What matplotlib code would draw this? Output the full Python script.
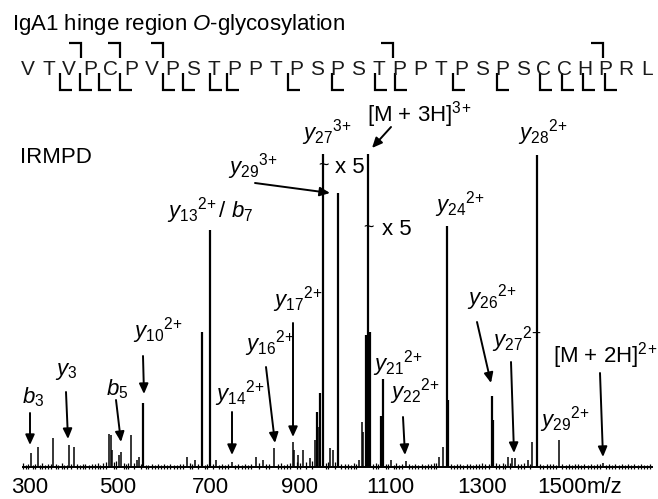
import matplotlib
matplotlib.use('Agg')
import matplotlib.pyplot as plt
import matplotlib.transforms as mtransforms

plt.rcParams['font.family'] = ['Liberation Sans', 'DejaVu Sans']
plt.rcParams['mathtext.fontset'] = 'custom'
plt.rcParams['mathtext.rm'] = 'Liberation Sans'
plt.rcParams['mathtext.it'] = 'Liberation Sans:italic'
plt.rcParams['mathtext.bf'] = 'Liberation Sans:bold'

# ---------------- data ----------------
title_text = r"IgA1 hinge region $\mathit{O}$-glycosylation"
sequence = list("VTVPCPVPSTPPTPSPSTPPTPSPSCCHPRL")

xticks = [300, 500, 700, 900, 1100, 1300, 1500]

peak_mz = [302, 318, 351, 387, 398, 476, 480, 482, 498, 502, 524, 538, 542, 551,
           649, 667, 682, 700, 713, 749, 802, 818, 842, 884, 887, 896, 907, 922,
           933, 938, 940, 944, 951, 967, 973, 984, 1031, 1038, 1040, 1047, 1051,
           1056, 1080, 1084, 1102, 1136, 1209, 1218, 1227, 1229, 1327, 1329, 1362,
           1371, 1378, 1407, 1416, 1427, 1476, 1573]
peak_int = [4.5, 6.4, 9.3, 7.0, 6.4, 10.5, 10.2, 5.4, 3.8, 4.8, 10.2, 2.2, 3.2, 20.4,
            3.2, 2.2, 43.1, 75.7, 2.2, 1.6, 3.2, 2.2, 6.1, 8.0, 5.4, 3.8, 5.4, 2.9,
            8.6, 17.6, 12.8, 23.6, 100.0, 6.1, 5.4, 87.5, 2.2, 14.4, 11.2, 42.2, 100.0,
            43.1, 16.3, 28.1, 2.2, 1.9, 3.2, 6.4, 77.0, 21.4, 22.7, 15.0, 3.2,
            2.9, 2.9, 2.2, 8.0, 99.7, 8.6, 1.3]

noise_mz = [285, 291, 296, 306, 311, 322, 327, 333, 340, 346,
            357, 363, 370, 376, 382, 392, 404, 410, 417, 423,
            430, 437, 444, 450, 456, 462, 468, 487, 492, 508,
            513, 518, 530, 546, 557, 563, 570, 577, 584, 591,
            598, 605, 612, 619, 626, 633, 640, 656, 661, 674,
            689, 694, 706, 720, 727, 734, 741, 756, 763, 770,
            777, 784, 791, 809, 825, 832, 850, 857, 864, 871,
            877, 893, 901, 914, 927, 958, 962, 978, 992, 999,
            1006, 1013, 1020, 1025, 1062, 1068, 1074, 1090, 1096, 1108,
            1114, 1120, 1127, 1142, 1149, 1156, 1163, 1170, 1177, 1184,
            1191, 1197, 1203, 1235, 1242, 1249, 1256, 1263, 1270, 1277,
            1284, 1291, 1298, 1305, 1312, 1319, 1336, 1343, 1350, 1356,
            1366, 1384, 1391, 1398, 1412, 1434, 1441, 1448, 1455, 1462,
            1469, 1483, 1490, 1497, 1504, 1511, 1518, 1525, 1532, 1539,
            1546, 1553, 1560, 1567, 1580, 1587, 1594, 1601, 1608, 1615,
            1622, 1629, 1636, 1643, 1650, 1657, 1664, 1671, 1678]
noise_int = [1.2, 0.6, 0.9, 0.5, 1.0, 0.7, 1.3, 0.6, 0.9, 1.1,
             0.8, 0.5, 1.2, 0.7, 0.6, 1.0, 0.9, 0.5, 0.8, 1.1,
             0.6, 0.9, 1.0, 1.4, 0.7, 1.2, 1.6, 1.5, 1.8, 1.3,
             1.1, 1.4, 1.2, 0.9, 0.7, 0.6, 1.0, 0.5, 0.8, 0.6,
             0.9, 0.5, 1.1, 0.7, 0.6, 1.0, 0.8, 1.2, 0.9, 1.0,
             0.7, 1.1, 0.8, 0.6, 0.9, 0.5, 0.8, 0.6, 1.0, 0.7,
             0.9, 0.6, 1.0, 1.3, 0.8, 1.0, 0.9, 1.2, 0.7, 1.1,
             1.3, 1.5, 1.2, 1.6, 1.8, 1.4, 1.7, 1.5, 1.1, 0.9,
             1.0, 0.7, 1.2, 0.9, 1.0, 1.3, 0.8, 1.1, 0.9, 0.7,
             1.2, 0.6, 0.9, 1.0, 0.6, 1.1, 0.7, 0.9, 0.6, 1.0,
             0.8, 1.2, 1.4, 1.0, 0.7, 1.1, 0.8, 0.6, 1.0, 0.9,
             0.7, 1.1, 0.8, 1.2, 0.9, 1.0, 1.3, 0.9, 1.4, 1.1,
             1.2, 1.0, 0.8, 1.3, 1.1, 1.0, 0.7, 1.1, 0.8, 0.9,
             0.6, 1.0, 0.7, 0.9, 0.6, 1.1, 0.8, 0.5, 0.9, 0.7,
             1.0, 0.6, 0.8, 1.1, 0.7, 0.9, 0.5, 0.8, 0.6, 0.9,
             0.7, 1.0, 0.5, 0.8, 0.6, 0.9, 0.7, 0.5, 0.8]

label_texts = [
    r"$\mathit{b}_{\mathrm{3}}$",
    r"$\mathit{y}_{\mathrm{3}}$",
    r"$\mathit{b}_{\mathrm{5}}$",
    r"$\mathit{y}_{\mathrm{10}}{}^{\mathrm{2\!+}}$",
    r"$\mathit{y}_{\mathrm{13}}{}^{\mathrm{2\!+}}\mathrm{/}\ \mathit{b}_{\mathrm{7}}$",
    r"$\mathit{y}_{\mathrm{14}}{}^{\mathrm{2\!+}}$",
    r"$\mathit{y}_{\mathrm{16}}{}^{\mathrm{2\!+}}$",
    r"$\mathit{y}_{\mathrm{17}}{}^{\mathrm{2\!+}}$",
    r"$\mathit{y}_{\mathrm{29}}{}^{\mathrm{3\!+}}$",
    r"$\mathit{y}_{\mathrm{27}}{}^{\mathrm{3\!+}}$",
    r"[M + 3H]$^{\mathrm{3\!+}}$",
    r"$\mathit{y}_{\mathrm{28}}{}^{\mathrm{2\!+}}$",
    r"$\mathit{y}_{\mathrm{24}}{}^{\mathrm{2\!+}}$",
    r"$\mathit{y}_{\mathrm{21}}{}^{\mathrm{2\!+}}$",
    r"$\mathit{y}_{\mathrm{22}}{}^{\mathrm{2\!+}}$",
    r"$\mathit{y}_{\mathrm{26}}{}^{\mathrm{2\!+}}$",
    r"$\mathit{y}_{\mathrm{27}}{}^{\mathrm{2\!+}}$",
    r"[M + 2H]$^{\mathrm{2\!+}}$",
    r"$\mathit{y}_{\mathrm{29}}{}^{\mathrm{2\!+}}$",
]

# ---------------- layout (pixels, origin top-left) ----------------
W, H = 658, 499
X0, PX_PER_MZ = 30, 0.45      # m/z 300 sits at x = 30 px
BASE, PX_PER_PCT = 467, 3.13  # baseline y px, px per % intensity

tick_label_nudge = [0, -2, 0, 0, 0, 2, -8]   # px shifts of tick labels

label_pos = [(22, 403), (55, 375), (106, 395), (133, 338), (167, 218),
             (215, 401), (245, 351), (273, 307), (228, 173), (302, 140),
             (367, 121), (518, 140), (435, 212), (373, 371), (390, 399),
             (467, 305), (492, 347), (553, 363), (540, 427)]
arrows = [((30, 413), (30, 445)), ((66, 392), (68, 439)), ((116, 400), (121, 442)),
          ((143, 356), (144, 394)), ((232, 412), (232, 455)), ((266, 367), (275, 443)),
          ((293, 323), (293, 437)), ((255, 183), (330, 193)), ((391, 127), (372, 148)),
          ((403, 417), (405, 455)), ((477, 322), (491, 383)), ((511, 362), (514, 453)),
          ((600, 373), (603, 457))]

seq_x0, seq_dx, seq_base = 28, 20.63, 75
upper_brackets = [81, 120, 163, 393, 603]
lower_brackets = [60, 80, 99, 120, 163, 183, 210, 227, 288, 332, 375, 395,
                  453, 497, 540, 562, 583, 605]

fig = plt.figure(figsize=(W / 100, H / 100), dpi=100)
ax = fig.add_axes([0, 0, 1, 1])
ax.set_axis_off()


def mz_of(px):
    return 300 + (px - X0) / PX_PER_MZ


def int_of(py):
    return (BASE - py) / PX_PER_PCT


ax.set_xlim(mz_of(0), mz_of(W))
ax.set_ylim(int_of(H), int_of(0))
P = mtransforms.Affine2D().scale(1 / W, -1 / H).translate(0, 1) + fig.transFigure

# spectrum
ax.plot([mz_of(22), mz_of(653)], [0, 0], color='black', lw=1.4, solid_capstyle='butt')
ax.vlines(noise_mz, -0.5, noise_int, color='black', lw=0.9)
big = [(m, v) for m, v in zip(peak_mz, peak_int) if v >= 15]
small = [(m, v) for m, v in zip(peak_mz, peak_int) if v < 15]
ax.vlines([m for m, _ in small], 0, [v for _, v in small], color='black', lw=1.1)
ax.vlines([m for m, _ in big], 0, [v for _, v in big], color='black', lw=1.6)

# tick labels
for t, dx in zip(xticks, tick_label_nudge):
    tx = X0 + (t - 300) * PX_PER_MZ + dx
    ax.text(tx, 493, str(t), transform=P, ha='center', va='baseline', fontsize=16)
ax.text(587, 493, "m/z", transform=P, ha='left', va='baseline', fontsize=16)

# title and IRMPD
ax.text(12, 30, title_text, transform=P, ha='left', va='baseline', fontsize=16)
ax.text(20, 163, "IRMPD", transform=P, ha='left', va='baseline', fontsize=16)

# sequence
for i, aa in enumerate(sequence):
    ax.text(seq_x0 + i * seq_dx, seq_base, aa, transform=P, ha='center',
            va='baseline', fontsize=15, color='#1a1a1a')
for vx in upper_brackets:
    ax.plot([vx - 12, vx, vx], [43, 43, 58], transform=P, color='black', lw=1.6,
            solid_joinstyle='miter', solid_capstyle='butt')
for vx in lower_brackets:
    ax.plot([vx, vx, vx + 12], [73, 90, 90], transform=P, color='black', lw=1.6,
            solid_joinstyle='miter', solid_capstyle='butt')

# peak labels
for (lx, ly), s in zip(label_pos, label_texts):
    ax.text(lx, ly, s, transform=P, ha='left', va='baseline', fontsize=16)

for start, tip in arrows:
    ax.annotate('', xy=tip, xytext=start, xycoords=P, textcoords=P,
                arrowprops=dict(arrowstyle='-|>,head_length=0.6,head_width=0.27',
                                lw=1.4, color='black', shrinkA=0, shrinkB=0))

# scale breaks
for (bx, by), (tx, ty) in [((323, 165), (335, 173)), ((368, 227), (382, 235))]:
    ax.text(bx, by, "~", transform=P, ha='center', va='center', fontsize=13)
    ax.text(tx, ty, "x 5", transform=P, ha='left', va='baseline', fontsize=16)

fig.savefig("out.png", dpi=100)
